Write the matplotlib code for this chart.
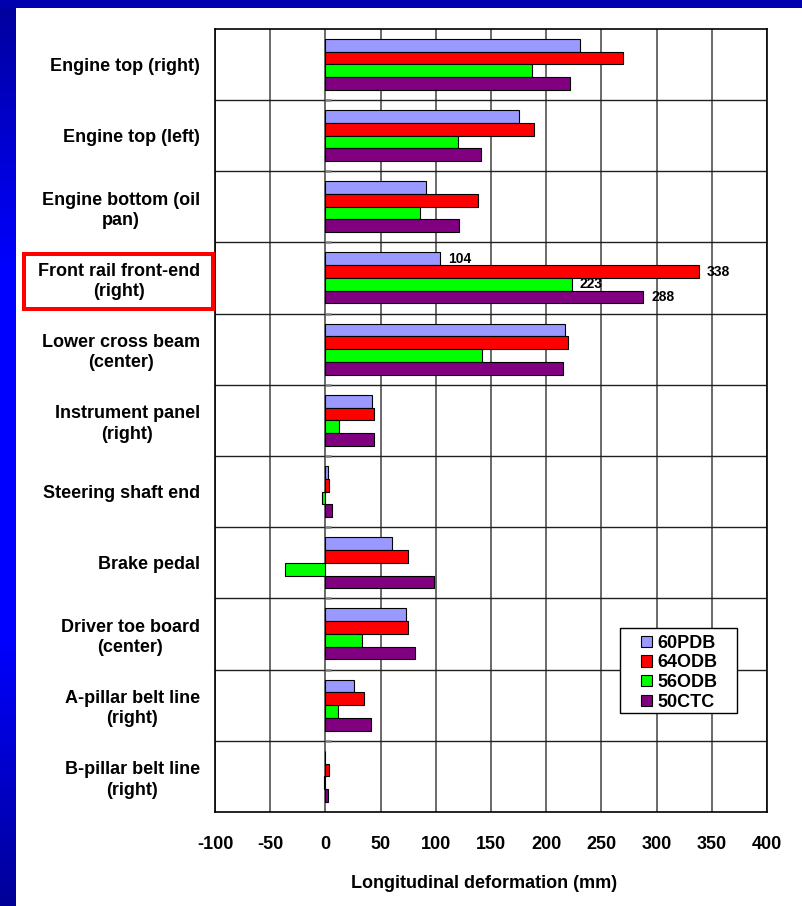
import numpy as np
import matplotlib
matplotlib.use("Agg")
import matplotlib.pyplot as plt
from matplotlib.patches import Rectangle, Patch

plt.rcParams['font.family'] = ['Liberation Sans', 'DejaVu Sans']
plt.rcParams['font.weight'] = 'bold'

# 数据
categories = ["Engine top (right)", "Engine top (left)", "Engine bottom (oil\npan)",
              "Front rail front-end\n(right)", "Lower cross beam\n(center)",
              "Instrument panel\n(right)", "Steering shaft end", "Brake pedal",
              "Driver toe board\n(center)", "A-pillar belt line\n(right)",
              "B-pillar belt line\n(right)"]
series_names = ["60PDB", "64ODB", "56ODB", "50CTC"]
pdb60 = [231, 175, 91, 104, 217, 42, 2, 60, 73, 26, 0]
odb64 = [270, 189, 138, 338, 220, 44, 3, 75, 75, 35, 3]
odb56 = [187, 120, 86, 223, 142, 12, -3, -37, 33, 11, -1]
ctc50 = [222, 141, 121, 288, 215, 44, 6, 98, 81, 41, 2]
labelled = 3  # Front rail front-end: 标注数值
x_ticks = [-100, -50, 0, 50, 100, 150, 200, 250, 300, 350, 400]

colors = ['#9999FF', '#FF0000', '#00FF00', '#800080']

W, H = 803, 906
fig = plt.figure(figsize=(W / 100, H / 100), dpi=100)
fig.patch.set_facecolor('white')

# 蓝色边框
grad = np.concatenate([np.linspace(0.62, 1.0, 30), np.ones(40), np.linspace(1.0, 0.6, 30)])
img = np.zeros((len(grad), 1, 3))
img[:, 0, 2] = grad
bax = fig.add_axes([0, 0, 16 / W, 1])
bax.imshow(img, aspect='auto', extent=[0, 1, 0, 1])
bax.axis('off')
fig.patches.append(Rectangle((0, 1 - 7.5 / H), 1, 7.5 / H, transform=fig.transFigure,
                             facecolor='#0000AE', edgecolor='none', zorder=5))

ax = fig.add_axes([215 / W, 1 - 812 / H, 552 / W, 783.3 / H])

y = np.arange(len(categories))
bh = 0.179
data = [pdb60, odb64, odb56, ctc50]
for k, (vals, c, name) in enumerate(zip(data, colors, series_names)):
    ax.barh(y + (k - 1.5) * bh, vals, height=bh, color=c, edgecolor='black',
            linewidth=0.8, label=name, zorder=3)
    ax.annotate(str(vals[labelled]), (vals[labelled], labelled + (k - 1.5) * bh),
                xytext=(6, 0), textcoords='offset points', va='center', ha='left',
                fontsize=10, fontweight='bold', zorder=4)

ax.set_xlim(-100, 400)
ax.set_ylim(len(categories) - 0.5, -0.5)
ax.set_xticks(x_ticks)
ax.set_xticklabels([str(t) for t in x_ticks])
ax.set_yticks(y)
ax.set_yticklabels(categories, multialignment='center', linespacing=1.25)
ax.tick_params(axis='both', length=0, labelsize=13)
ax.tick_params(axis='x', pad=17)
ax.tick_params(axis='y', pad=10.8)

for xv in x_ticks:
    ax.axvline(xv, color='#505050', linewidth=1.2, zorder=1)
for b in np.arange(0.5, len(categories) - 0.5, 1):
    ax.axhline(b, color='#202020', linewidth=1.0, zorder=1)
    ax.hlines(b, 0, 5, color='#808080', linewidth=1.8, zorder=2)
for s in ax.spines.values():
    s.set_linewidth(1.2)

ax.set_xlabel("Longitudinal deformation (mm)", fontsize=13, fontweight='bold', labelpad=16)
ax.xaxis.label.set_x(0.487)

# 图例
ax.add_patch(Rectangle((0.7337, 0.126), 0.2114, 0.1085, transform=ax.transAxes,
                       facecolor='white', edgecolor='black', linewidth=1.0, zorder=4.5))
handles = [Patch(facecolor=c, edgecolor='black', linewidth=0.8) for c in colors]
leg = ax.legend(handles, series_names, loc='upper left', bbox_to_anchor=(0.76, 0.2345),
                fontsize=13, frameon=False,
                handlelength=0.6, handleheight=0.6, handletextpad=0.33,
                labelspacing=0.15, borderpad=0.35, borderaxespad=0)
leg.set_zorder(5)
for t in leg.get_texts():
    t.set_fontweight('bold')

# 红框
fig.patches.append(Rectangle((24 / W, 1 - 309 / H), 189 / W, 55 / H, transform=fig.transFigure,
                             facecolor='none', edgecolor='#FF0000', linewidth=2.9, zorder=6))

fig.savefig('out.png', dpi=100)
